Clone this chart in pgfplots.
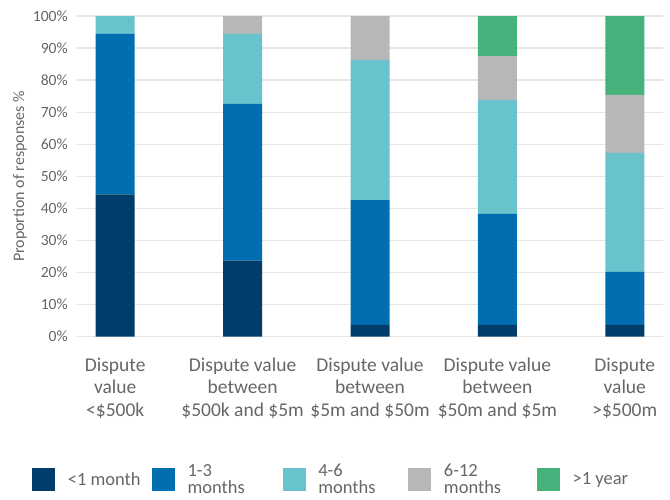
\documentclass[border=0pt]{standalone}
\usepackage{fontspec}
\setmainfont{Carlito}
\usepackage{pgfplots}
\pgfplotsset{compat=1.18}
\definecolor{cA}{HTML}{003D6B}
\definecolor{cB}{HTML}{006EB0}
\definecolor{cC}{HTML}{68C3CD}
\definecolor{cD}{HTML}{B6B7B6}
\definecolor{cE}{HTML}{46B17B}
\definecolor{txt}{HTML}{666666}
\definecolor{grd}{HTML}{E6E6E6}
\newcommand{\legtwo}[3]{\vbox{\baselineskip=17.5pt\lineskiplimit=-20pt\hbox to #1{#2\hfil}\hbox to #1{#3\hfil}}}
\begin{document}
\begin{tikzpicture}[x=1pt,y=1pt]
\begin{axis}[name=ax, at={(0,0)}, anchor=south west,
  width=586pt, height=320.7pt, scale only axis,
  ybar stacked, bar width=39pt,
  xmin=-0.3, xmax=4.3, ymin=0, ymax=100,
  xtick={0,1,2,3,4},
  xticklabels={{Dispute\\value\\<\$500k},{Dispute value\\between\\\$500k and \$5m},{Dispute value\\between\\\$5m and \$50m},{Dispute value\\between\\\$50m and \$5m},{Dispute\\value\\>\$500m}},
  xticklabel style={align=center, inner sep=0pt, anchor=north, yshift=-21pt, font=\fontsize{19.5}{22.5}\selectfont, text=txt},
  ytick={0,10,...,100},
  yticklabel={\pgfmathprintnumber{\tick}\%},
  yticklabel style={inner sep=0pt, anchor=east, xshift=-9pt, font=\fontsize{15.6}{18}\selectfont, text=txt},
  /pgf/number format/assume math mode=true,
  ylabel={Proportion of responses \%},
  every axis y label/.style={at={([xshift=-57pt]axis description cs:0,0.5)}, rotate=90, anchor=center, font=\fontsize{16}{18}\selectfont, text=txt},
  ymajorgrids, grid style={color=grd, line width=1.3pt},
  axis line style={draw=none}, major tick style={draw=none},
  legend columns=5,
  legend image code/.code={\fill[#1] (0pt,-11.5pt) rectangle (23pt,11.5pt);},
  legend style={draw=none, fill=none, inner sep=0pt, column sep=0pt,
    at={([xshift=-45pt,yshift=-143pt]axis description cs:0,0)}, anchor=west,
    font=\fontsize{18.5}{18}\selectfont, text=txt,
    nodes={inner sep=0pt},
    cells={anchor=west},
    /tikz/every odd column/.append style={column sep=12.7pt}},
]
\addplot[fill=cA, draw=none] coordinates {(0,44.4) (1,23.7) (2,3.7) (3,3.7) (4,3.7)};
\addlegendentry{\makebox[84pt][l]{<1 month}}
\addplot[fill=cB, draw=none] coordinates {(0,50) (1,48.9) (2,38.9) (3,34.6) (4,16.5)};
\addlegendentry{\legtwo{95pt}{1-3}{months}}
\addplot[fill=cC, draw=none] coordinates {(0,5.6) (1,21.8) (2,43.7) (3,35.5) (4,37.1)};
\addlegendentry{\legtwo{90pt}{4-6}{months}}
\addplot[fill=cD, draw=none] coordinates {(0,0) (1,5.6) (2,13.7) (3,13.7) (4,18.1)};
\addlegendentry{\legtwo{93pt}{6-12}{months}}
\addplot[fill=cE, draw=none] coordinates {(0,0) (1,0) (2,0) (3,12.5) (4,24.6)};
\addlegendentry{\makebox[60pt][l]{>1 year}}
\end{axis}
\path (ax.south west) ++(-77pt,336.7pt) coordinate (tl);
\path (ax.south west) ++(593pt,-162.3pt) coordinate (br);
\path (tl) (br);
\end{tikzpicture}
\end{document}
